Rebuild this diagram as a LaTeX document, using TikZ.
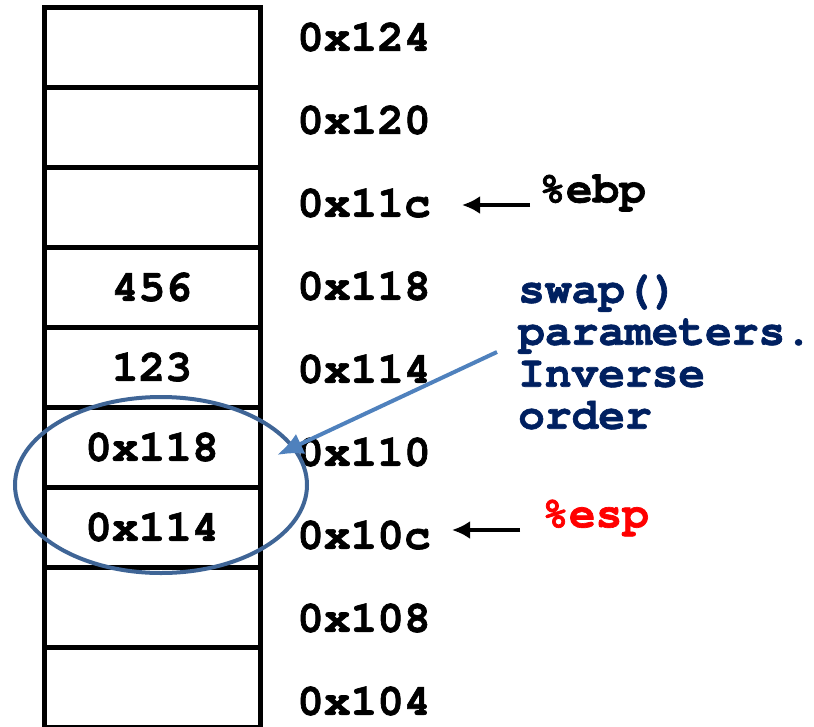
\documentclass[tikz,border=0pt]{standalone}
\usepackage{fontspec}
\setmonofont[BoldFeatures={FakeBold=1.5}]{TeX Gyre Cursor}
\usetikzlibrary{arrows.meta}

\definecolor{navy}{RGB}{0,32,96}
\definecolor{ringblue}{RGB}{63,101,150}
\definecolor{pointblue}{RGB}{79,129,189}

\tikzset{
  cell/.style={draw, line width=5pt, minimum width=216pt, minimum height=80pt,
    inner sep=0pt, font=\fontsize{44.5}{48}\selectfont\ttfamily\bfseries},
  addr/.style={anchor=west, inner sep=0pt, font=\fontsize{44.5}{48}\selectfont\ttfamily\bfseries},
  reg/.style={anchor=west, inner sep=0pt, font=\fontsize{44.5}{48}\selectfont\ttfamily\bfseries},
  ptr/.style={-{Latex[length=18pt,width=18pt]}, line width=4pt}
}

\begin{document}
\begin{tikzpicture}[x=1pt, y=-1pt]
	\useasboundingbox (0,0) rectangle (814,726);
	% stack cells, top to bottom
	\foreach \v [count=\i from 0] in {{},{},{},456,123,0x118,0x114,{},{}}
		\node[cell] (c\i) at (152,47+80*\i) {\v};
	% addresses
	\foreach \a [count=\i from 0] in {0x124,0x120,0x11c,0x118,0x114,0x110,0x10c,0x108,0x104}
		\node[addr] (a\i) at (297,37+83*\i) {\a};
	% registers
	\node[reg] (ebp) at (539,193) {\%ebp};
	\node[reg, text=red] (esp) at (542,518) {\%esp};
	\coordinate (ebptip) at (462,205);
	\coordinate (esptip) at (452,530);
	\draw[ptr] ([shift={(-9,12)}]ebp.west) -- (ebptip);
	\draw[ptr] ([shift={(-22,12)}]esp.west) -- (esptip);
	% note on the arguments
	\node[reg, text=navy, align=left, font=\fontsize{44.5}{42}\selectfont\ttfamily\bfseries]
		(note) at (518,352) {swap()\\parameters.\\Inverse\\order};
	\coordinate (argtip) at (277,455);
	\draw[ringblue, line width=4pt] (161,485) ellipse [x radius=146pt, y radius=88pt];
	\draw[pointblue, -{Latex[length=26pt,width=22pt]}, line width=4pt] (497,352) -- (argtip);
\end{tikzpicture}
\end{document}
